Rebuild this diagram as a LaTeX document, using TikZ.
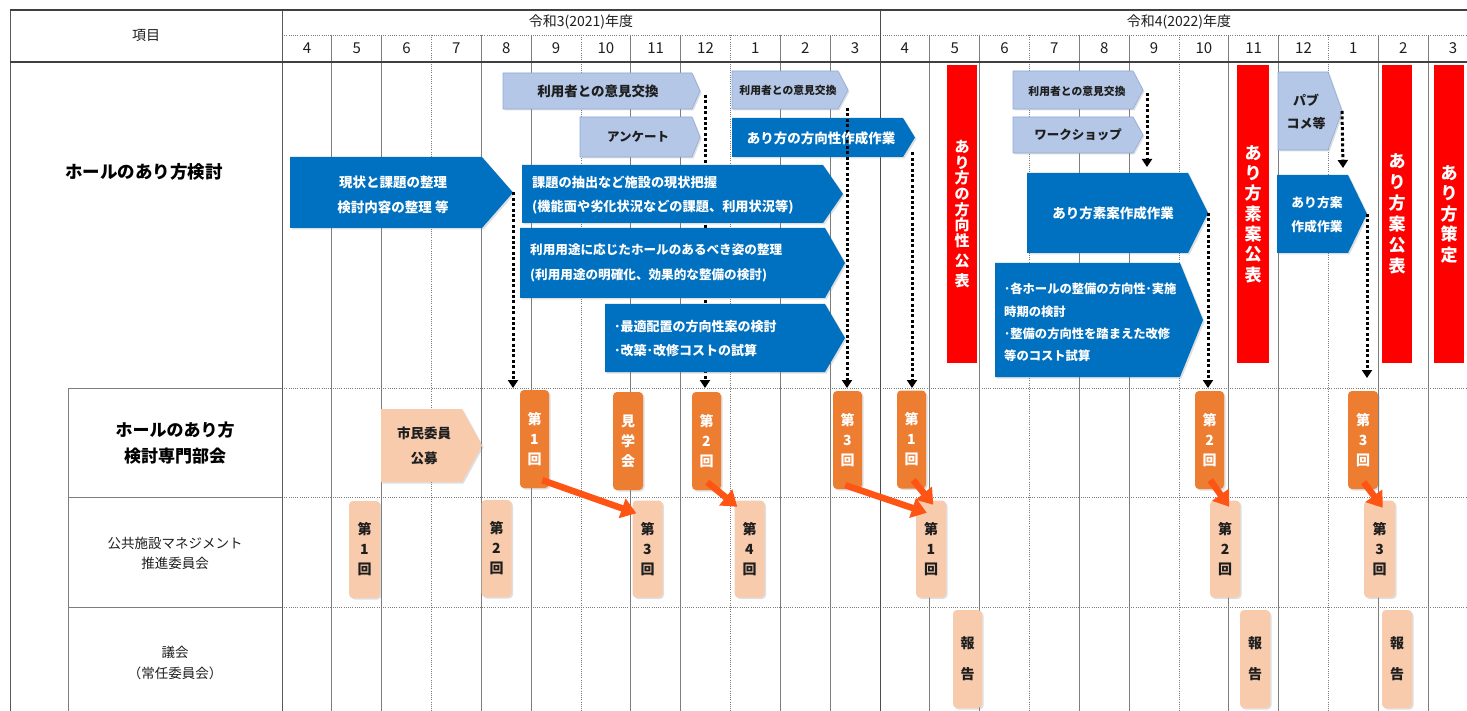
\documentclass[tikz,border=0pt]{standalone}
\usepackage{fontspec}
\newfontfamily\jp{Noto Sans CJK JP}
\usetikzlibrary{arrows.meta,shadows,calc}
\definecolor{cblue}{RGB}{0,112,192}
\definecolor{clb}{RGB}{180,199,231}
\definecolor{clbd}{RGB}{143,170,220}
\definecolor{cred}{RGB}{255,0,0}
\definecolor{cor}{RGB}{237,125,49}
\definecolor{clor}{RGB}{248,203,173}
\definecolor{carr}{RGB}{255,85,20}
\definecolor{cgrid}{RGB}{125,125,125}
\definecolor{ctxt}{RGB}{30,30,30}
\newcommand\fs[2]{\fontsize{#1}{#2}\selectfont}
% pentagon arrow box: style, name, x1, y1, shoulder x, tip x, y2
\newcommand\pbox[7]{%
  \path[#1] (#3,#4) -- (#5,#4) -- (#6,{(#4+#7)/2}) -- (#5,#7) -- (#3,#7) -- cycle;
  \coordinate (#2-tip) at (#6,{(#4+#7)/2});
}
\tikzset{
  gsolid/.style={draw=cgrid, line width=0.9pt},
  gdot/.style={draw=cgrid, line width=0.9pt, dash pattern=on 1pt off 1.2pt},
  frame/.style={draw=black!75, line width=1.4pt},
  shd/.style={drop shadow={shadow xshift=1.5pt, shadow yshift=-1.5pt, opacity=0.25}},
  bluebox/.style={fill=cblue, shd},
  lbbox/.style={fill=clb, draw=clbd, line width=0.6pt, shd},
  lopent/.style={fill=clor, shd},
  wt/.style={text=white, font=\jp\bfseries\fs{13.5}{24.5}, inner sep=0pt, align=center},
  lt/.style={text=ctxt, font=\jp\bfseries\fs{13.5}{23}, inner sep=0pt, align=center},
  redbar/.style={fill=cred, inner sep=0pt, minimum width=30pt, minimum height=298pt,
     text=white, align=center},
  obox/.style={fill=cor, rounded corners=4pt, inner sep=0pt, minimum width=29pt,
     minimum height=98pt, text=white, font=\jp\bfseries\fs{14}{20}, align=center, shd},
  lobox/.style={fill=clor, rounded corners=4pt, inner sep=0pt, minimum width=30pt,
     minimum height=97pt, text=ctxt, font=\jp\bfseries\fs{14}{20}, align=center, shd},
  darrow/.style={line width=3pt, dash pattern=on 3pt off 2.4pt,
     -{Triangle[width=10pt,length=8pt]}},
  oarrow/.style={draw=carr, line width=6.5pt, -{Triangle[width=20pt,length=15pt]}},
  hdr/.style={font=\jp\fs{14}{16}, text=ctxt, inner sep=0pt},
}
\begin{document}
\begin{tikzpicture}[x=1pt,y=-1pt]
\useasboundingbox (0,0) rectangle (1467,711);
\fill[white] (0,0) rectangle (1467,711);
% ---------- grid ----------
\draw[gdot] (282,35) -- (1467,35);
\foreach \i in {1,2,4,5,7,8,10,11,13,14,16,17,19,20,22,23}
  \draw[gsolid] ({282+\i*49.83},35) -- ({282+\i*49.83},711);
\foreach \i in {3,6,9,15,18,21}
  \draw[gdot] ({282+\i*49.83},35) -- ({282+\i*49.83},711);
\foreach \yy in {388,497,607} {
  \draw[gdot] (282,\yy) -- (1467,\yy);
  \draw[gsolid] (68,\yy) -- (282,\yy);
}
\draw[gsolid] (68,388) -- (68,711);
\draw[gsolid, draw=black!65] (10,10) -- (10,711);
\draw[gsolid, draw=black!65] (282,10) -- (282,711);
\draw[gsolid, draw=black!70] (880,10) -- (880,711);
\draw[frame] (10,10) -- (1467,10);
\draw[frame, line width=1.1pt] (10,62) -- (1467,62);
\coordinate (row2top) at (0,388);
% ---------- header texts ----------
\node[hdr] (koumoku) at (146,36) {項目};
\node[hdr] (year1) at (581,22) {令和3(2021)年度};
\node[hdr] (year2) at (1179,22) {令和4(2022)年度};
\foreach \m [count=\i from 0] in {4,5,6,7,8,9,10,11,12,1,2,3,4,5,6,7,8,9,10,11,12,1,2,3}
  \node[hdr, font=\jp\fs{15}{16}] (m\i) at ({282+(\i+0.5)*49.83},48.5) {\m};
% ---------- row labels ----------
\node[inner sep=0pt, font=\jp\bfseries\fs{17.5}{20}] (lab1) at (144,172) {ホールのあり方検討};
\node[inner sep=0pt, align=center, font=\jp\bfseries\fs{17}{26}] (lab2) at (175,443) {ホールのあり方\\検討専門部会};
\node[inner sep=0pt, align=center, text=ctxt, font=\jp\fs{13.5}{20}] (lab3) at (175,553) {公共施設マネジメント\\推進委員会};
\node[inner sep=0pt, align=center, text=ctxt, font=\jp\fs{13.5}{21}] (lab4) at (175,662.5) {議会\\（常任委員会）};
% ---------- pentagon boxes (shapes) ----------
\pbox{bluebox}{b1}{290}{157}{482}{513}{228}
\pbox{lbbox}{lb1}{503}{73}{692}{700}{109}
\pbox{lbbox}{lb2}{580}{117}{692}{700}{157}
\pbox{lbbox}{lb3}{732}{71}{838}{848}{109}
\pbox{bluebox}{b2}{732}{118}{903}{915}{157}
\pbox{lbbox}{lb4}{1013}{71}{1133}{1143}{109}
\pbox{lbbox}{lb5}{1013}{117}{1133}{1143}{153}
\pbox{lbbox}{lb6}{1278}{72}{1328}{1342}{150}
% ---------- dotted arrows (behind the big boxes) ----------
\coordinate (a2s) at ($(lb1-tip)+(5,4)$);
\coordinate (a3s) at ($(lb3-tip)+(-1,18)$);
\coordinate (a4s) at ($(b2-tip)+(-3,15)$);
\coordinate (a7s) at ($(lb4-tip)+(4,3)$);
\coordinate (a7e) at (1147,167);
\coordinate (a8e) at (1343,168);
\draw[darrow] (b1-tip) -- (b1-tip |- row2top);
\draw[darrow] (a2s) -- (a2s |- row2top);
\draw[darrow] (a3s) -- (a3s |- row2top);
\draw[darrow] (a4s) -- (a4s |- row2top);
\draw[darrow] (a7s) -- (a7e);
\draw[darrow] (lb6-tip) -- (a8e);
% ---------- big blue boxes ----------
\pbox{bluebox}{b3}{522}{165}{823}{843}{223}
\pbox{bluebox}{b4}{520}{228}{825}{845}{298}
\pbox{bluebox}{b5}{605}{304}{825}{845}{372}
\pbox{bluebox}{b6}{1027}{173}{1188}{1208}{253}
\pbox{bluebox}{b7}{995}{263}{1180}{1203}{377}
\pbox{bluebox}{b8}{1277}{175}{1348}{1367}{253}
\coordinate (a6e) at (1367,378);
\draw[darrow] (b6-tip) -- (b6-tip |- row2top);
\draw[darrow] (b8-tip) -- (a6e);
% ---------- box texts ----------
\node[wt, font=\jp\bfseries\fs{13.5}{25}] (b1t) at (393,195) {現状と課題の整理\\検討内容の整理 等};
\node[lt] (lb1t) at (598,91) {利用者との意見交換};
\node[lt, font=\jp\bfseries\fs{12.5}{14}] (lb2t) at (638,137) {アンケート};
\node[lt, font=\jp\bfseries\fs{10.8}{13}] (lb3t) at (788,90) {利用者との意見交換};
\node[wt] (b2t) at (821,138) {あり方の方向性作成作業};
\node[wt, font=\jp\bfseries\fs{13.2}{24}, align=left, anchor=west] (b3t) at (532,195) {課題の抽出など施設の現状把握\\(機能面や劣化状況などの課題、利用状況等)};
\node[wt, font=\jp\bfseries\fs{12.6}{25}, align=left, anchor=west] (b4t) at (530,262.5) {利用用途に応じたホールのあるべき姿の整理\\(利用用途の明確化、効果的な整備の検討)};
\node[wt, font=\jp\bfseries\fs{13}{24}, align=left, anchor=west] (b5t) at (614,339) {･最適配置の方向性案の検討\\･改築･改修コストの試算};
\node[lt, font=\jp\bfseries\fs{10.8}{13}] (lb4t) at (1077,91) {利用者との意見交換};
\node[lt, font=\jp\bfseries\fs{12.5}{14}] (lb5t) at (1078,135) {ワークショップ};
\node[wt] (b6t) at (1113,213) {あり方素案作成作業};
\node[wt, font=\jp\bfseries\fs{12.3}{22.3}, align=left, anchor=west] (b7t) at (1004,322.5) {･各ホールの整備の方向性･実施\\時期の検討\\･整備の方向性を踏まえた改修\\等のコスト試算};
\node[lt, font=\jp\bfseries\fs{13}{23}] (lb6t) at (1306,111.5) {パブ\\コメ等};
\node[wt, font=\jp\bfseries\fs{12.8}{24}] (b8t) at (1317,215) {あり方案\\作成作業};
% ---------- red bars ----------
\node[redbar, font=\jp\bfseries\fs{15}{15.7}] (r1) at (962,214) {あ\\り\\方\\の\\方\\向\\性\\[4.3pt]公\\[4.3pt]表};
\node[redbar, minimum width=32pt, font=\jp\bfseries\fs{17}{20.3}] (r2) at (1253,214) {あ\\り\\方\\素\\案\\公\\表};
\node[redbar, font=\jp\bfseries\fs{17}{21}] (r3) at (1397,214) {あ\\り\\方\\案\\公\\表};
\node[redbar, font=\jp\bfseries\fs{17}{20.5}] (r4) at (1449,214) {あ\\り\\方\\策\\定};
% ---------- row 2 ----------
\pbox{lopent}{s1}{381}{409}{462}{482}{482}
\node[lt, font=\jp\bfseries\fs{13.5}{25}] (s1t) at (424,445.5) {市民委員\\公募};
\node[obox] (o1) at (534.5,439) {第\\1\\回};
\node[obox, minimum width=30pt] (o2) at (628,441) {見\\学\\会};
\node[obox] (o3) at (706.5,441) {第\\2\\回};
\node[obox] (o4) at (847.5,440) {第\\3\\回};
\node[obox] (o5) at (911.5,439.5) {第\\1\\回};
\node[obox] (o6) at (1209.5,440) {第\\2\\回};
\node[obox, minimum width=30pt] (o7) at (1363,440) {第\\3\\回};
% ---------- row 3 ----------
\node[lobox, minimum width=31pt] (c1) at (364.5,549.5) {第\\1\\回};
\node[lobox] (c2) at (496.5,548.5) {第\\2\\回};
\node[lobox] (c3) at (647.5,549) {第\\3\\回};
\node[lobox] (c4) at (749.5,549) {第\\4\\回};
\node[lobox] (c5) at (931,549) {第\\1\\回};
\node[lobox] (c6) at (1225,549) {第\\2\\回};
\node[lobox, minimum width=31pt] (c7) at (1379.5,549) {第\\3\\回};
% ---------- row 4 ----------
\node[lobox, minimum width=29pt, minimum height=98pt, font=\jp\bfseries\fs{14}{31}] (h1) at (967.5,659) {報\\告};
\node[lobox, minimum width=30pt, minimum height=98pt, font=\jp\bfseries\fs{14}{31}] (h2) at (1255,659) {報\\告};
\node[lobox, minimum width=30pt, minimum height=98pt, font=\jp\bfseries\fs{14}{31}] (h3) at (1397,659) {報\\告};
% ---------- orange arrows ----------
\draw[oarrow] ($(o1.south east)+(-7,-8)$) -- ($(c3.north west)+(4,13)$);
\draw[oarrow] ($(o3.south east)+(-14,-8)$) -- ($(c4.north west)+(3,6.5)$);
\draw[oarrow] ($(o4.south east)+(-17,-4)$) -- ($(c5.north west)+(11,12.5)$);
\draw[oarrow] ($(o5.south east)+(-13,-8.5)$) -- ($(c5.north west)+(17.5,4.5)$);
\draw[oarrow] ($(o6.south east)+(-14,-9)$) -- ($(c6.north west)+(19.5,6.5)$);
\draw[oarrow] ($(o7.south east)+(-14.5,-7)$) -- ($(c7.north west)+(19,7.5)$);
\end{tikzpicture}
\end{document}
